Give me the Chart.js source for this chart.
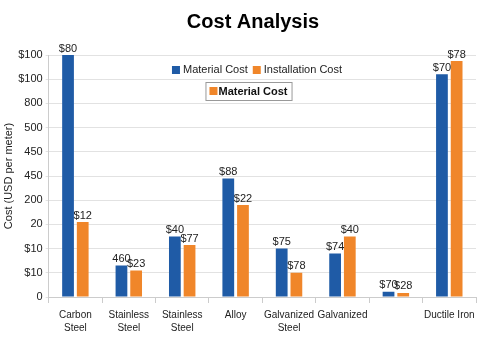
<!DOCTYPE html>
<html>
<head>
<meta charset="utf-8">
<script src="https://cdn.jsdelivr.net/npm/chart.js@4/dist/chart.umd.min.js"></script>
<style>
  html, body { margin: 0; padding: 0; background: #fff; }
  #wrap { width: 500px; height: 350px; }
</style>
</head>
<body>
<div id="wrap"><canvas id="costChart"></canvas></div>
<script>
// chart data
const categories = [["Carbon", "Steel"], ["Stainless", "Steel"], ["Stainless", "Steel"], "Alloy",
  ["Galvanized", "Steel"], "Galvanized", "", "Ductile Iron"];
const materialCost = [100, 13, 25, 49, 20, 18, 2.2, 92];
const installationCost = [31, 11, 21.5, 38, 10, 25, 1.7, 97.5];
const materialLabels = ["$80", "460", "$40", "$88", "$75", "$74", "$70", "$70"];
const installationLabels = ["$12", "$23", "$77", "$22", "$78", "$40", "$28", "$78"];
// y tick labels, bottom to top
const yTickLabels = ["0", "$10", "$10", "20", "200", "450", "450", "500", "800", "$100", "$100"];

const blue = "#1f5ba6";
const orange = "#f0862a";
const font = "'Liberation Sans', Arial, sans-serif";

// title drawn by hand so it can sit centred on the page
const pageTitle = {
  id: "pageTitle",
  afterDraw(chart) {
    const ctx = chart.ctx;
    ctx.save();
    ctx.font = "bold 20px " + font;
    ctx.fillStyle = "#000";
    ctx.textAlign = "center";
    ctx.textBaseline = "middle";
    ctx.fillText("Cost Analysis", chart.width / 2 + 3, 22);
    ctx.restore();
  }
};

// text above each bar
const barLabels = {
  id: "barLabels",
  afterDatasetsDraw(chart) {
    const ctx = chart.ctx;
    const texts = [materialLabels, installationLabels];
    ctx.save();
    ctx.font = "11px " + font;
    ctx.fillStyle = "#222";
    ctx.textAlign = "center";
    ctx.textBaseline = "bottom";
    chart.data.datasets.forEach((ds, i) => {
      chart.getDatasetMeta(i).data.forEach((bar, j) => {
        ctx.fillText(texts[i][j], bar.x, bar.y - 1);
      });
    });
    ctx.restore();
  }
};

// legend drawn inside the plot, plus the framed second entry
const innerLegend = {
  id: "innerLegend",
  afterDraw(chart) {
    const ctx = chart.ctx;
    const a = chart.chartArea;
    const cx = 257;
    ctx.save();
    ctx.textBaseline = "middle";
    ctx.font = "11px " + font;
    const t1 = "Material Cost", t2 = "Installation Cost";
    const w1 = ctx.measureText(t1).width, w2 = ctx.measureText(t2).width;
    const total = 8 + 3 + w1 + 5 + 8 + 3 + w2;
    let x = cx - total / 2;
    const y = a.top + 15;
    ctx.fillStyle = blue;
    ctx.fillRect(x, y - 4, 8, 8);
    ctx.fillStyle = "#222";
    ctx.fillText(t1, x + 11, y);
    x += 11 + w1 + 5;
    ctx.fillStyle = orange;
    ctx.fillRect(x, y - 4, 8, 8);
    ctx.fillStyle = "#222";
    ctx.fillText(t2, x + 11, y);

    // second box
    ctx.font = "bold 11px " + font;
    const w3 = ctx.measureText(t1).width;
    const bw = w3 + 17, bh = 18;
    const bx = 248.5 - bw / 2, by = a.top + 27;
    ctx.fillStyle = "#fff";
    ctx.fillRect(bx, by, bw, bh);
    ctx.strokeStyle = "#999";
    ctx.lineWidth = 1;
    ctx.strokeRect(bx + 0.5, by + 0.5, bw, bh);
    ctx.fillStyle = orange;
    ctx.fillRect(bx + 4, by + 5, 8, 8);
    ctx.fillStyle = "#111";
    ctx.fillText(t1, bx + 13, by + bh / 2 + 0.5);
    ctx.restore();
  }
};

const ctx = document.getElementById("costChart").getContext("2d");
new Chart(ctx, {
  type: "bar",
  data: {
    labels: categories,
    datasets: [
      { label: "Material Cost", data: materialCost, backgroundColor: blue },
      { label: "Installation Cost", data: installationCost, backgroundColor: orange }
    ]
  },
  options: {
    responsive: true,
    maintainAspectRatio: false,
    animation: false,
    categoryPercentage: 0.55,
    barPercentage: 0.8,
    layout: { padding: { left: 2, right: 24, top: 55, bottom: 9 } },
    plugins: {
      legend: { display: false },
      tooltip: { enabled: false },
      title: { display: false }
    },
    scales: {
      x: {
        grid: { drawOnChartArea: false, color: "#ccc", tickLength: 6 },
        border: { color: "#ccc" },
        ticks: { color: "#222", font: { family: font, size: 10, lineHeight: 1.3 }, padding: 6, maxRotation: 0, autoSkip: false }
      },
      y: {
        min: 0,
        max: 100,
        ticks: {
          stepSize: 10,
          color: "#222",
          font: { family: font, size: 11 },
          padding: 3,
          callback: (v, i) => yTickLabels[i]
        },
        grid: { color: "#e2e2e2", tickLength: 3 },
        border: { color: "#ccc" },
        title: {
          display: true,
          text: "Cost (USD per meter)",
          color: "#222",
          font: { family: font, size: 11 },
          padding: 0
        }
      }
    }
  },
  plugins: [barLabels, innerLegend, pageTitle]
});
</script>
</body>
</html>
